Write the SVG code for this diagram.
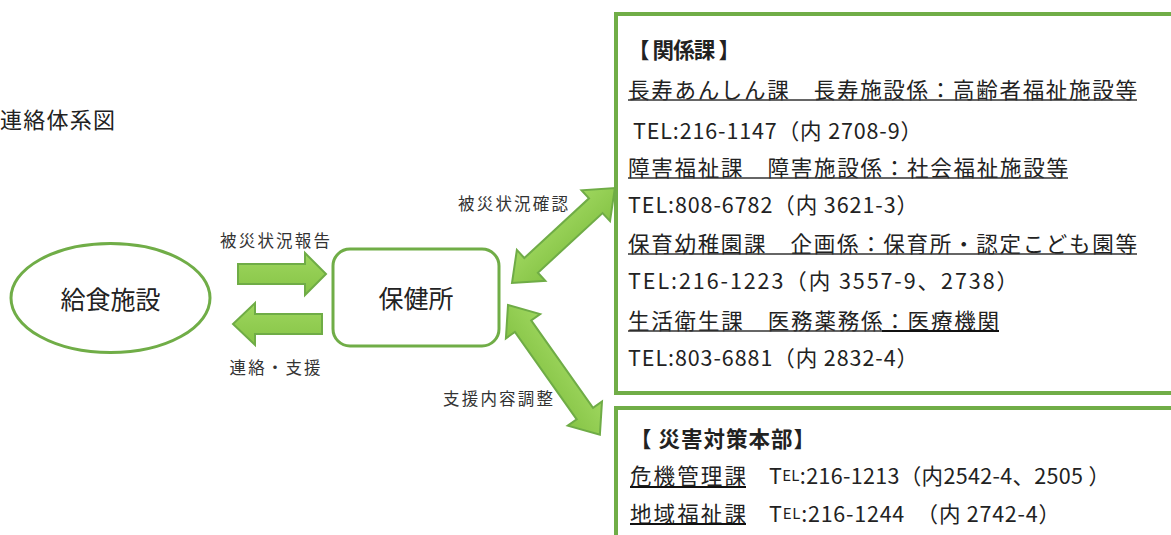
<svg xmlns="http://www.w3.org/2000/svg" width="1171" height="535" viewBox="0 0 1171 535">
<defs>
<linearGradient id="g" x1="0" y1="0" x2="0" y2="1">
<stop offset="0" stop-color="#9ed65e"/>
<stop offset="1" stop-color="#86c446"/>
</linearGradient>
<style>
text{font-family:"Noto Sans CJK JP","Noto Sans",sans-serif;fill:#222;dominant-baseline:central}
.arrow{fill:url(#g);stroke:#6fac46;stroke-width:2;stroke-linejoin:miter}
.node{fill:#fff;stroke:#70ad47;stroke-width:3}
.box{fill:#fff;stroke:#70ad47;stroke-width:4}
.lbl{font-size:16.5px;fill:#333}
.big{font-size:25px;fill:#222}
.t{font-size:21.5px}
.b{font-size:21.5px;font-weight:bold}
.ul{stroke:#333;stroke-width:1.3}
.ul2{stroke:#111;stroke-width:2}
</style>
</defs>
<rect width="1171" height="535" fill="#fff"/>
<text id="title" x="0" y="118" font-size="22" textLength="115" lengthAdjust="spacing">連絡体系図</text>

<g id="kyushoku">
<ellipse class="node" cx="110.5" cy="298" rx="99.5" ry="54.5"/>
<text class="big" x="110.5" y="298" text-anchor="middle">給食施設</text>
</g>

<g id="hokenjo">
<rect class="node" x="333" y="249" width="166" height="97" rx="17"/>
<text class="big" x="416" y="297" text-anchor="middle">保健所</text>
</g>

<g id="kankeika">
<rect class="box" x="616" y="14" width="570" height="379"/>
<text class="b" x="628" y="48" textLength="112" lengthAdjust="spacing">【 関係課 】</text>
<text class="t" x="628" y="88" textLength="509" lengthAdjust="spacing">長寿あんしん課　長寿施設係：高齢者福祉施設等</text>
<line class="ul" x1="628" y1="100" x2="1137" y2="100"/>
<text class="t" x="633" y="129" textLength="289" lengthAdjust="spacing">TEL:216-1147（内 2708-9）</text>
<text class="t" x="628" y="166" textLength="440" lengthAdjust="spacing">障害福祉課　障害施設係：社会福祉施設等</text>
<line class="ul" x1="628" y1="178" x2="1068" y2="178"/>
<text class="t" x="628" y="203" textLength="290" lengthAdjust="spacing">TEL:808-6782（内 3621-3）</text>
<text class="t" x="628" y="242" textLength="509" lengthAdjust="spacing">保育幼稚園課　企画係：保育所・認定こども園等</text>
<line class="ul" x1="628" y1="254" x2="1137" y2="254"/>
<text class="t" x="628" y="279" textLength="390" lengthAdjust="spacing">TEL:216-1223（内 3557-9、2738）</text>
<text class="t" x="628" y="319" textLength="371" lengthAdjust="spacing">生活衛生課　医務薬務係：医療機関</text>
<line class="ul" x1="628" y1="331" x2="882" y2="331"/>
<line class="ul2" x1="882" y1="331" x2="999" y2="331"/>
<text class="t" x="628" y="356" textLength="290" lengthAdjust="spacing">TEL:803-6881（内 2832-4）</text>
</g>

<g id="saigai">
<rect class="box" x="616" y="408" width="570" height="140"/>
<text class="b" x="630" y="437" textLength="185" lengthAdjust="spacing">【 災害対策本部】</text>
<text class="t" x="630" y="474" textLength="116" lengthAdjust="spacing">危機管理課</text>
<line class="ul2" x1="630" y1="487" x2="746" y2="487"/>
<text class="t" x="769" y="474" textLength="341" lengthAdjust="spacing">T<tspan font-size="15">EL</tspan>:216-1213（内2542-4、2505 ）</text>
<text class="t" x="630" y="512" textLength="116" lengthAdjust="spacing">地域福祉課</text>
<line class="ul2" x1="630" y1="524" x2="746" y2="524"/>
<text class="t" x="769" y="512" textLength="291" lengthAdjust="spacing">T<tspan font-size="15">EL</tspan>:216-1244　（内 2742-4）</text>
</g>

<g id="connectors">
<polygon class="arrow" points="238,264 305,264 305,253 326,274 305,295 305,284 238,284"/>
<polygon class="arrow" points="322,314 255,314 255,303 233,324 255,345 255,334 322,334"/>
<polygon class="arrow" transform="translate(512,283) rotate(-42.7)" points="0,0 26,-21 26,-10 114,-10 114,-21 140,0 114,21 114,10 26,10 26,21"/>
<polygon class="arrow" transform="translate(508,305) rotate(54.7)" points="0,0 26,-21 26,-10 133,-10 133,-21 159,0 133,21 133,10 26,10 26,21"/>
<text class="lbl" x="275" y="240" text-anchor="middle" textLength="110" lengthAdjust="spacing">被災状況報告</text>
<text class="lbl" x="275" y="367" text-anchor="middle" textLength="91" lengthAdjust="spacing">連絡・支援</text>
<text class="lbl" x="513" y="203" text-anchor="middle" textLength="110" lengthAdjust="spacing">被災状況確認</text>
<text class="lbl" x="498" y="398" text-anchor="middle" textLength="110" lengthAdjust="spacing">支援内容調整</text>
</g>
</svg>
